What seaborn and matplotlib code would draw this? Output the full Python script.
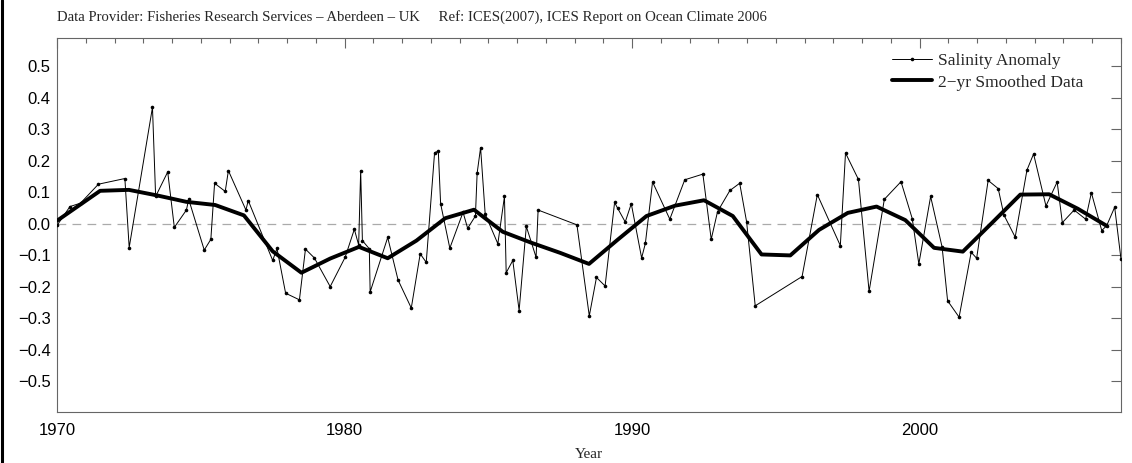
import matplotlib
matplotlib.use("Agg")
import matplotlib.pyplot as plt
import seaborn as sns
import pandas as pd
from matplotlib.ticker import MultipleLocator, FuncFormatter
from matplotlib.lines import Line2D

# ---- data ----
anom_year = [1970.0, 1970.45, 1970.82, 1971.44, 1972.36, 1972.51, 1973.32, 1973.43, 1973.85, 1974.08,
             1974.5, 1974.58, 1975.12, 1975.35, 1975.48, 1975.85, 1975.96, 1976.57, 1976.65, 1977.5,
             1977.65, 1977.95, 1978.43, 1978.64, 1978.95, 1979.5, 1980.02, 1980.34, 1980.49, 1980.56,
             1980.62, 1980.86, 1980.89, 1981.5, 1981.86, 1982.32, 1982.63, 1982.84, 1983.13, 1983.26,
             1983.34, 1983.66, 1984.12, 1984.28, 1984.55, 1984.61, 1984.73, 1984.89, 1985.33, 1985.56,
             1985.62, 1985.85, 1986.07, 1986.32, 1986.66, 1986.73, 1988.08, 1988.51, 1988.76, 1989.06,
             1989.39, 1989.50, 1989.76, 1989.97, 1990.33, 1990.46, 1990.71, 1991.31, 1991.83, 1992.46,
             1992.75, 1992.97, 1993.40, 1993.74, 1993.98, 1994.28, 1995.91, 1996.44, 1997.24, 1997.42,
             1997.87, 1998.24, 1998.77, 1999.35, 1999.74, 1999.97, 2000.38, 2000.78, 2000.97, 2001.37,
             2001.79, 2001.98, 2002.38, 2002.73, 2002.93, 2003.32, 2003.73, 2003.96, 2004.39, 2004.78,
             2004.96, 2005.37, 2005.77, 2005.97, 2006.33, 2006.50, 2006.78, 2007.0]
anom_val = [-0.005, 0.055, 0.066, 0.126, 0.144, -0.075, 0.370, 0.087, 0.165, -0.011,
            0.044, 0.078, -0.083, -0.049, 0.129, 0.103, 0.169, 0.044, 0.074, -0.116,
            -0.078, -0.220, -0.241, -0.080, -0.108, -0.199, -0.106, -0.017, -0.067, 0.169,
            -0.053, -0.079, -0.216, -0.043, -0.178, -0.267, -0.095, -0.122, 0.226, 0.231,
            0.064, -0.077, 0.037, -0.014, 0.025, 0.161, 0.242, 0.031, -0.063, 0.087,
            -0.155, -0.116, -0.275, -0.008, -0.106, 0.044, -0.003, -0.292, -0.170, -0.197,
            0.068, 0.049, 0.006, 0.064, -0.108, -0.062, 0.133, 0.015, 0.140, 0.158,
            -0.049, 0.039, 0.106, 0.129, 0.007, -0.260, -0.167, 0.093, -0.069, 0.225,
            0.141, -0.214, 0.078, 0.134, 0.017, -0.127, 0.087, -0.074, -0.244, -0.296,
            -0.090, -0.109, 0.138, 0.112, 0.028, -0.042, 0.171, 0.222, 0.057, 0.133,
            0.004, 0.044, 0.015, 0.099, -0.021, -0.006, 0.053, -0.112]

smooth_year = [1970.0, 1971.5, 1972.5, 1973.5, 1974.5, 1975.5, 1976.5, 1977.5, 1978.5, 1979.5,
               1980.5, 1981.5, 1982.5, 1983.5, 1984.5, 1985.5, 1986.5, 1987.5, 1988.5, 1989.5,
               1990.5, 1991.5, 1992.5, 1993.5, 1994.5, 1995.5, 1996.5, 1997.5, 1998.5, 1999.5,
               2000.5, 2001.5, 2002.5, 2003.5, 2004.5, 2005.5, 2006.5]
smooth_val = [0.01, 0.105, 0.108, 0.09, 0.07, 0.06, 0.027, -0.087, -0.155, -0.11,
              -0.073, -0.109, -0.053, 0.018, 0.045, -0.025, -0.06, -0.092, -0.127, -0.05,
              0.025, 0.058, 0.075, 0.025, -0.097, -0.100, -0.019, 0.035, 0.055, 0.012,
              -0.076, -0.088, 0.002, 0.093, 0.094, 0.048, -0.006]

x_major = [1970, 1980, 1990, 2000]
y_ticks = [-0.5, -0.4, -0.3, -0.2, -0.1, 0.0, 0.1, 0.2, 0.3, 0.4, 0.5]
title_text = ("Data Provider: Fisheries Research Services \u2013 Aberdeen \u2013 UK     "
              "Ref: ICES(2007), ICES Report on Ocean Climate 2006")
label_anom = "Salinity Anomaly"
label_smooth = "2\u2212yr Smoothed Data"

# ---- plot ----
sns.set_theme(style="white")
plt.rcParams["font.family"] = ["Liberation Sans", "DejaVu Sans"]
serif = ["Liberation Serif", "DejaVu Serif"]

fig = plt.figure(figsize=(11.32, 4.63), dpi=100)
ax = fig.add_axes([57 / 1132, 1 - 412 / 463, (1121 - 57) / 1132, (412 - 38) / 463])

ax.axhline(0, color="#aaaaaa", lw=0.9, dashes=(7, 5), zorder=1)

df_a = pd.DataFrame({"year": anom_year, "val": anom_val})
df_s = pd.DataFrame({"year": smooth_year, "val": smooth_val})
sns.lineplot(data=df_a, x="year", y="val", ax=ax, color="black", lw=0.7,
             marker="o", markersize=2.6, markeredgewidth=0, sort=False,
             estimator=None, zorder=3)
sns.lineplot(data=df_s, x="year", y="val", ax=ax, color="black", lw=2.8,
             sort=False, estimator=None, zorder=4)

ax.set_xlim(1970, 2007)
ax.set_ylim(-0.597, 0.59)
ax.set_xticks(x_major)
ax.xaxis.set_minor_locator(MultipleLocator(1))
ax.set_yticks(y_ticks)
ax.yaxis.set_major_formatter(FuncFormatter(lambda v, p: f"{v:.1f}".replace("-", "\u2212")))

for s in ax.spines.values():
    s.set_color("#666666")
    s.set_linewidth(0.8)
ax.tick_params(axis="both", which="both", direction="in", top=True, right=True,
               color="#666666", width=0.8, labelsize=12, labelcolor="black")
ax.tick_params(axis="x", which="major", length=7.5, pad=8)
ax.tick_params(axis="x", which="minor", length=3.6)
ax.tick_params(axis="y", which="major", length=7, pad=4.5)

ax.set_xlabel("Year", family=serif, fontsize=11, labelpad=7)
ax.set_ylabel("")

fig.text(57 / 1132, 1 - 17 / 463, title_text, family=serif, fontsize=10.6,
         ha="left", va="center")

handles = [Line2D([], [], color="black", lw=0.7, marker="o", markersize=2.6,
                  markeredgewidth=0),
           Line2D([], [], color="black", lw=2.8)]
leg = ax.legend(handles, [label_anom, label_smooth], loc="upper left",
                bbox_to_anchor=(0.777, 0.983), frameon=False, borderpad=0,
                handlelength=2.3, handletextpad=0.3, labelspacing=0.3,
                prop={"family": serif, "size": 12.5}, numpoints=1)

fig.add_artist(Line2D([0.0015, 0.0015], [0, 1], transform=fig.transFigure,
                      color="black", lw=2.2))

fig.savefig("out.png", dpi=100)
